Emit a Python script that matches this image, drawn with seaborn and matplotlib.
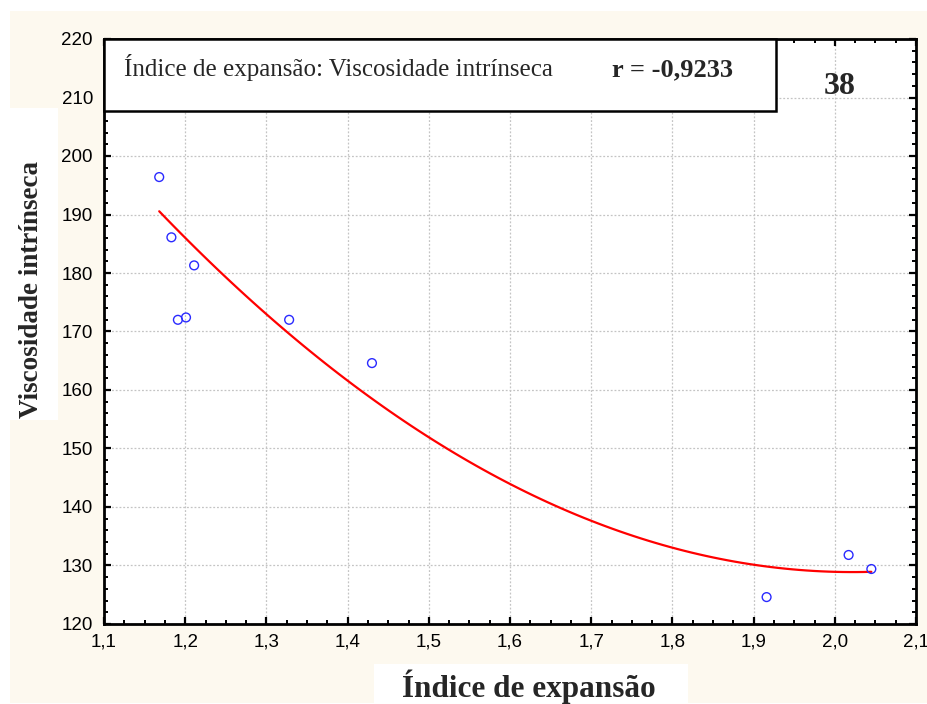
import numpy as np
import pandas as pd
import matplotlib
matplotlib.use("Agg")
import matplotlib.pyplot as plt
from matplotlib.patches import Rectangle
from matplotlib.ticker import FixedLocator, FixedFormatter, MultipleLocator
import seaborn as sns

# Measurements: expansion index vs intrinsic viscosity
# (the last sample sits under the title box)
indice_expansao = [1.168, 1.183, 1.191, 1.201, 1.211, 1.328, 1.430, 1.916, 2.017, 2.045, 1.168]
viscosidade = [196.4, 186.1, 172.0, 172.4, 181.3, 172.0, 164.6, 124.6, 131.8, 129.4, 212.3]

x_ticks = [1.1, 1.2, 1.3, 1.4, 1.5, 1.6, 1.7, 1.8, 1.9, 2.0, 2.1]
x_tick_labels = ["1,1", "1,2", "1,3", "1,4", "1,5", "1,6", "1,7", "1,8", "1,9", "2,0", "2,1"]
y_ticks = [120, 130, 140, 150, 160, 170, 180, 190, 200, 210, 220]
y_tick_labels = [str(v) for v in y_ticks]

titulo = "Índice de expansão: Viscosidade intrínseca"
coef_r = "r = -0,9233"
rotulo_painel = "38"

df = pd.DataFrame({"indice": indice_expansao, "visc": viscosidade})

sns.set_theme(style="ticks")
plt.rcParams["font.family"] = ["Liberation Sans", "DejaVu Sans"]

CREAM = "#FDF9EF"
SERIF = ["Liberation Serif", "DejaVu Serif"]

fig = plt.figure(figsize=(9.27, 7.04), dpi=100, facecolor="white")
W, H = 927.0, 704.0

def fig_rect(x0, y0, x1, y1, color):
    fig.patches.append(Rectangle((x0 / W, 1 - y1 / H), (x1 - x0) / W, (y1 - y0) / H,
                                 transform=fig.transFigure, facecolor=color,
                                 edgecolor="none", zorder=-10))

# page background and the white panels behind the axis titles
fig_rect(10, 11, 927, 703, CREAM)
fig_rect(10, 108, 58, 420, "white")
fig_rect(374, 664, 688, 703, "white")

ax = fig.add_axes([104 / W, 1 - 624 / H, 812 / W, 585 / H])
ax.set_facecolor("white")

sns.regplot(data=df, x="indice", y="visc", order=2, ci=None, truncate=True, ax=ax,
            scatter_kws=dict(color="#2a2aff", facecolors="none", s=40, linewidths=1.0,
                             alpha=1, zorder=4),
            line_kws=dict(color="#ff0000", lw=1.6, zorder=3))

ax.set_xlim(1.1, 2.1)
ax.set_ylim(120, 220)
ax.xaxis.set_major_locator(FixedLocator(x_ticks))
ax.xaxis.set_major_formatter(FixedFormatter(x_tick_labels))
ax.yaxis.set_major_locator(FixedLocator(y_ticks))
ax.yaxis.set_major_formatter(FixedFormatter(y_tick_labels))
ax.xaxis.set_minor_locator(MultipleLocator(0.025))
ax.yaxis.set_minor_locator(MultipleLocator(2))

ax.grid(True, which="major", color="#c4c4c4", linestyle=(0, (1.5, 1.5)), linewidth=0.9)
ax.set_axisbelow(True)

for sp in ax.spines.values():
    sp.set_visible(True)
    sp.set_color("black")
    sp.set_linewidth(2.0)

ax.tick_params(which="both", direction="in", top=True, right=True, color="black")
ax.tick_params(which="major", length=5, width=1.6, labelsize=13.5, labelcolor="black")
ax.tick_params(which="minor", length=3, width=1.4)
ax.tick_params(axis="y", which="major", pad=8)
ax.tick_params(axis="x", which="major", pad=7)

ax.set_xlabel("Índice de expansão", fontsize=22.5, fontweight="bold", family=SERIF,
              va="baseline")
ax.xaxis.set_label_coords((529 - 104) / 812, (624 - 697) / 585)
ax.set_ylabel("Viscosidade intrínseca", fontsize=19.5, fontweight="bold", family=SERIF,
              va="baseline")
ax.yaxis.set_label_coords((38 - 104) / 812, (624 - 289) / 585)

# title box at the top of the plot area, drawn over the data
ax.add_patch(Rectangle((0, (624 - 111) / 585), (776 - 104) / 812, (111 - 39) / 585,
                       transform=ax.transAxes, facecolor="white", edgecolor="black",
                       linewidth=1.8, zorder=5, clip_on=False))
ax.text((124 - 104) / 812, (624 - 76) / 585, titulo, transform=ax.transAxes,
        family=SERIF, fontsize=18, va="baseline", ha="left", zorder=6)
ax.text((612 - 104) / 812, (624 - 76) / 585, coef_r, transform=ax.transAxes,
        family=SERIF, fontsize=19, fontweight="bold", va="baseline", ha="left", zorder=6)
ax.text((840 - 104) / 812, (624 - 86) / 585, rotulo_painel, transform=ax.transAxes,
        family=SERIF, fontsize=23, fontweight="bold", va="center", ha="center", zorder=6)

fig.savefig("out.png", dpi=100, facecolor=fig.get_facecolor())
